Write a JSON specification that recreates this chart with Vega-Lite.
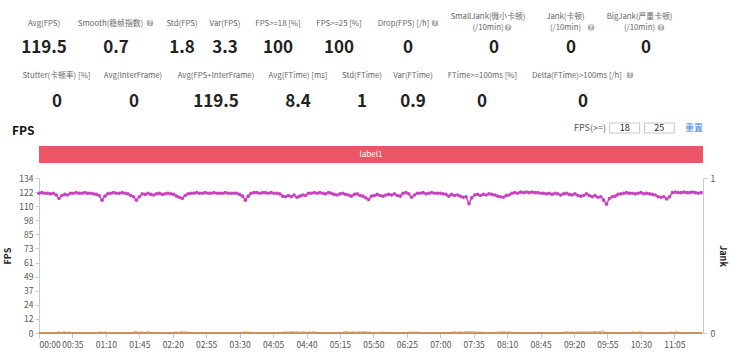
{
  "$schema": "https://vega.github.io/schema/vega-lite/v6.json",
  "width": 664,
  "height": 155,
  "autosize": {"type": "none"},
  "padding": {"left": 39, "top": 178, "right": 27, "bottom": 19},
  "config": {
    "view": {"stroke": null},
    "font": "Noto Sans CJK SC",
    "text": {"font": "Noto Sans CJK SC"},
    "axis": {"labelFont": "Noto Sans CJK SC", "titleFont": "Noto Sans CJK SC", "labelOverlap": false},
    "axisX": {"labelOverlap": false},
    "axisY": {"labelOverlap": false}
  },
  "datasets": {
    "fps": [
      {"t":0,"f":121},{"t":3,"f":121.5},{"t":6,"f":121},{"t":9,"f":121},{"t":12,"f":120.5},{"t":15,"f":121},{"t":18,"f":119.5},{"t":21,"f":116.5},{"t":24,"f":119},{"t":27,"f":120},
      {"t":30,"f":119.5},{"t":33,"f":121},{"t":36,"f":121},{"t":39,"f":121.5},{"t":42,"f":121},{"t":45,"f":121},{"t":48,"f":121.5},{"t":51,"f":121},{"t":54,"f":121},{"t":57,"f":120.5},
      {"t":60,"f":120},{"t":63,"f":119},{"t":66,"f":115},{"t":69,"f":118.5},{"t":72,"f":120.5},{"t":75,"f":121},{"t":78,"f":121.5},{"t":81,"f":121},{"t":84,"f":121},{"t":87,"f":121.5},
      {"t":90,"f":121},{"t":93,"f":120.5},{"t":96,"f":119},{"t":99,"f":118},{"t":102,"f":115},{"t":105,"f":118},{"t":108,"f":120.5},{"t":111,"f":120},{"t":114,"f":121},{"t":117,"f":120},
      {"t":120,"f":119.5},{"t":123,"f":120.5},{"t":126,"f":121},{"t":129,"f":120},{"t":132,"f":120.5},{"t":135,"f":121},{"t":138,"f":120.5},{"t":141,"f":120},{"t":144,"f":118.5},{"t":147,"f":117.5},
      {"t":150,"f":116.5},{"t":153,"f":119},{"t":156,"f":120.5},{"t":159,"f":121},{"t":162,"f":121},{"t":165,"f":121.5},{"t":168,"f":121},{"t":171,"f":121},{"t":174,"f":121.5},{"t":177,"f":121},
      {"t":180,"f":121},{"t":183,"f":121.5},{"t":186,"f":121},{"t":189,"f":121},{"t":192,"f":121},{"t":195,"f":121.5},{"t":198,"f":121},{"t":201,"f":121},{"t":204,"f":121},{"t":207,"f":121},
      {"t":210,"f":120},{"t":213,"f":118.5},{"t":216,"f":115},{"t":219,"f":118.5},{"t":222,"f":121},{"t":225,"f":121.5},{"t":228,"f":121.5},{"t":231,"f":121},{"t":234,"f":121.5},{"t":237,"f":121.5},
      {"t":240,"f":121},{"t":243,"f":121.5},{"t":246,"f":121},{"t":249,"f":121},{"t":252,"f":120.5},{"t":255,"f":118.5},{"t":258,"f":118},{"t":261,"f":119},{"t":264,"f":118},{"t":267,"f":119.5},
      {"t":270,"f":117.5},{"t":273,"f":118.5},{"t":276,"f":119.5},{"t":279,"f":119},{"t":282,"f":121},{"t":285,"f":121},{"t":288,"f":121.5},{"t":291,"f":121},{"t":294,"f":121.5},{"t":297,"f":121},
      {"t":300,"f":120.5},{"t":303,"f":121.5},{"t":306,"f":121},{"t":309,"f":120},{"t":312,"f":119.5},{"t":315,"f":120.5},{"t":318,"f":121},{"t":321,"f":120},{"t":324,"f":119.5},{"t":327,"f":118.5},
      {"t":330,"f":120},{"t":333,"f":120.5},{"t":336,"f":119},{"t":339,"f":118.5},{"t":342,"f":117},{"t":345,"f":115.5},{"t":348,"f":118.5},{"t":351,"f":119},{"t":354,"f":120},{"t":357,"f":119},
      {"t":360,"f":118.5},{"t":363,"f":119.5},{"t":366,"f":120},{"t":369,"f":119.5},{"t":372,"f":120.5},{"t":375,"f":119},{"t":378,"f":118.5},{"t":381,"f":121},{"t":384,"f":121.5},{"t":387,"f":120.5},
      {"t":390,"f":117.5},{"t":393,"f":119.5},{"t":396,"f":121},{"t":399,"f":121},{"t":402,"f":121.5},{"t":405,"f":120.5},{"t":408,"f":121},{"t":411,"f":121.5},{"t":414,"f":121},{"t":417,"f":121},
      {"t":420,"f":121},{"t":423,"f":120.5},{"t":426,"f":120},{"t":429,"f":118.5},{"t":432,"f":120},{"t":435,"f":119},{"t":438,"f":119.5},{"t":441,"f":118.5},{"t":444,"f":117.5},{"t":447,"f":118},
      {"t":450,"f":112},{"t":453,"f":117},{"t":456,"f":119.5},{"t":459,"f":120},{"t":462,"f":119},{"t":465,"f":120},{"t":468,"f":119.5},{"t":471,"f":120.5},{"t":474,"f":120},{"t":477,"f":119.5},
      {"t":480,"f":118.5},{"t":483,"f":118},{"t":486,"f":117.5},{"t":489,"f":119},{"t":492,"f":119.5},{"t":495,"f":121},{"t":498,"f":121.5},{"t":501,"f":121},{"t":504,"f":122},{"t":507,"f":121.5},
      {"t":510,"f":122},{"t":513,"f":121.5},{"t":516,"f":122},{"t":519,"f":121.5},{"t":522,"f":121.5},{"t":525,"f":121},{"t":528,"f":121},{"t":531,"f":120.5},{"t":534,"f":121},{"t":537,"f":120},
      {"t":540,"f":121},{"t":543,"f":120.5},{"t":546,"f":119.5},{"t":549,"f":120.5},{"t":552,"f":121},{"t":555,"f":120},{"t":558,"f":119.5},{"t":561,"f":120.5},{"t":564,"f":119},{"t":567,"f":118.5},
      {"t":570,"f":119},{"t":573,"f":120.5},{"t":576,"f":119},{"t":579,"f":118},{"t":582,"f":119},{"t":585,"f":117.5},{"t":588,"f":118},{"t":591,"f":115},{"t":594,"f":111.5},{"t":597,"f":116.5},
      {"t":600,"f":118},{"t":603,"f":118.5},{"t":606,"f":120},{"t":609,"f":120.5},{"t":612,"f":121},{"t":615,"f":121.5},{"t":618,"f":121},{"t":621,"f":121},{"t":624,"f":120.5},{"t":627,"f":121},
      {"t":630,"f":121.5},{"t":633,"f":120.5},{"t":636,"f":121},{"t":639,"f":120.5},{"t":642,"f":120},{"t":645,"f":119.5},{"t":648,"f":118},{"t":651,"f":117.5},{"t":654,"f":118},{"t":657,"f":116},
      {"t":660,"f":118},{"t":663,"f":121.5},{"t":666,"f":122},{"t":669,"f":121.5},{"t":672,"f":121.5},{"t":675,"f":122},{"t":678,"f":121.5},{"t":681,"f":121.5},{"t":684,"f":122},{"t":687,"f":121.5},
      {"t":690,"f":121},{"t":693,"f":121.5}
    ],
    "green": [
      {"t":0,"v":0},{"t":18,"v":0},{"t":20,"v":1},{"t":23,"v":0.4},{"t":26,"v":1.3},{"t":29,"v":0.6},{"t":32,"v":1},{"t":34,"v":0},
      {"t":62,"v":0},{"t":64,"v":1.2},{"t":67,"v":0.5},{"t":70,"v":1},{"t":72,"v":0},
      {"t":96,"v":0},{"t":99,"v":0.8},{"t":102,"v":1.4},{"t":105,"v":0.5},{"t":108,"v":1.1},{"t":111,"v":0.4},{"t":114,"v":1.2},{"t":117,"v":0.6},{"t":120,"v":0},
      {"t":140,"v":0},{"t":143,"v":1},{"t":146,"v":0.5},{"t":149,"v":1.3},{"t":152,"v":0.7},{"t":155,"v":1.1},{"t":158,"v":0.4},{"t":160,"v":0},
      {"t":213,"v":0},{"t":215,"v":1.2},{"t":218,"v":0.6},{"t":221,"v":1},{"t":223,"v":0},
      {"t":252,"v":0},{"t":255,"v":0.7},{"t":258,"v":1.2},{"t":261,"v":0.5},{"t":264,"v":1.4},{"t":267,"v":0.8},{"t":270,"v":1.1},{"t":273,"v":0.4},{"t":276,"v":1.3},{"t":279,"v":0.7},{"t":282,"v":1},{"t":285,"v":0.5},{"t":288,"v":1.2},{"t":292,"v":0},
      {"t":316,"v":0},{"t":319,"v":0.9},{"t":322,"v":1.3},{"t":325,"v":0.6},{"t":328,"v":1.1},{"t":331,"v":0.5},{"t":334,"v":1.2},{"t":337,"v":0.8},{"t":340,"v":1.4},{"t":343,"v":0.6},{"t":346,"v":1},{"t":350,"v":0},
      {"t":355,"v":0},{"t":358,"v":1},{"t":361,"v":0.6},{"t":365,"v":0},
      {"t":385,"v":0},{"t":388,"v":1.1},{"t":391,"v":0.5},{"t":394,"v":1.2},{"t":397,"v":0.7},{"t":400,"v":0},
      {"t":429,"v":0},{"t":432,"v":0.8},{"t":435,"v":1.3},{"t":438,"v":0.6},{"t":441,"v":1.1},{"t":444,"v":0.5},{"t":447,"v":1.4},{"t":450,"v":1.6},{"t":453,"v":0.9},{"t":456,"v":1.2},{"t":459,"v":0.6},{"t":462,"v":1},{"t":465,"v":0.5},{"t":468,"v":0},
      {"t":477,"v":0},{"t":480,"v":1},{"t":483,"v":0.6},{"t":486,"v":1.3},{"t":489,"v":0.7},{"t":492,"v":1.1},{"t":497,"v":0},
      {"t":546,"v":0},{"t":549,"v":0.7},{"t":552,"v":1.2},{"t":555,"v":0.6},{"t":558,"v":1.1},{"t":561,"v":0.5},{"t":564,"v":1.3},{"t":567,"v":0.8},{"t":570,"v":1},{"t":573,"v":0.6},{"t":576,"v":1.2},{"t":579,"v":0.7},{"t":582,"v":1.4},{"t":585,"v":0.9},{"t":588,"v":1.5},{"t":591,"v":1.8},{"t":594,"v":0},
      {"t":619,"v":0},{"t":622,"v":1},{"t":625,"v":0.5},{"t":628,"v":1.2},{"t":631,"v":0.6},{"t":634,"v":0},
      {"t":658,"v":0},{"t":661,"v":1.1},{"t":664,"v":0.6},{"t":667,"v":1.2},{"t":670,"v":0.5},{"t":672,"v":0},{"t":694,"v":0}
    ],
    "jank": [
      {"t":0,"j":0},{"t":35,"j":0},{"t":70,"j":0},{"t":105,"j":0},{"t":140,"j":0},{"t":175,"j":0},{"t":210,"j":0},{"t":245,"j":0},{"t":280,"j":0},{"t":315,"j":0},{"t":350,"j":0},
      {"t":385,"j":0},{"t":420,"j":0},{"t":455,"j":0},{"t":490,"j":0},{"t":525,"j":0},{"t":560,"j":0},{"t":595,"j":0},{"t":630,"j":0},{"t":665,"j":0},{"t":694,"j":0}
    ],
    "labels": [{"start": 0, "end": 695, "label": "label1"}],
    "stats": [
      {"c":0,"r":0,"label":"Avg(FPS)","value":"119.5","help":0},
      {"c":1,"r":0,"label":"Smooth(稳帧指数)","value":"0.7","help":1},
      {"c":2,"r":0,"label":"Std(FPS)","value":"1.8","help":0},
      {"c":3,"r":0,"label":"Var(FPS)","value":"3.3","help":0},
      {"c":4,"r":0,"label":"FPS>=18 [%]","value":"100","help":0},
      {"c":5,"r":0,"label":"FPS>=25 [%]","value":"100","help":0},
      {"c":6,"r":0,"label":"Drop(FPS) [/h]","value":"0","help":1},
      {"c":7,"r":0,"label":["SmallJank(微小卡顿)","(/10min)"],"value":"0","help":1},
      {"c":8,"r":0,"label":["Jank(卡顿)","(/10min)"],"value":"0","help":1},
      {"c":9,"r":0,"label":["BigJank(严重卡顿)","(/10min)"],"value":"0","help":1},
      {"c":10,"r":1,"label":"Stutter(卡顿率) [%]","value":"0","help":0},
      {"c":11,"r":1,"label":"Avg(InterFrame)","value":"0","help":0},
      {"c":12,"r":1,"label":"Avg(FPS+InterFrame)","value":"119.5","help":0},
      {"c":13,"r":1,"label":"Avg(FTime) [ms]","value":"8.4","help":0},
      {"c":14,"r":1,"label":"Std(FTime)","value":"1","help":0},
      {"c":15,"r":1,"label":"Var(FTime)","value":"0.9","help":0},
      {"c":16,"r":1,"label":"FTime>=100ms [%]","value":"0","help":0},
      {"c":17,"r":1,"label":"Delta(FTime)>100ms [/h]","value":"0","help":1}
    ],
    "controls": [{"item": "FPS(>=)"}, {"item": "18"}, {"item": "25"}, {"item": "重置"}]
  },
  "layer": [
    {
      "layer": [
        {
          "data": {"name": "green"},
          "mark": {"type": "line", "color": "#91cc75", "strokeWidth": 1, "opacity": 0.9},
          "encoding": {
            "x": {"field": "t", "type": "quantitative", "scale": {"domain": [0, 695], "nice": false, "zero": false},
              "axis": {"values": [0,35,70,105,140,175,210,245,280,315,350,385,420,455,490,525,560,595,630,665],
                "labelExpr": "utcFormat(datum.value*1000, '%M:%S')", "title": null, "grid": false,
                "domainColor": "#c6cad4", "tickColor": "#c6cad4", "tickSize": 5, "labelColor": "#555",
                "labelFontSize": 8.5, "labelFlush": true, "labelPadding": 2, "labelOverlap": false}},
            "y": {"field": "v", "type": "quantitative", "scale": {"domain": [0, 134.2], "nice": false},
              "axis": {"values": [0,12.2,24.4,36.6,48.8,61,73.2,85.4,97.6,109.8,122,134.2], "format": ".0f",
                "title": "FPS", "grid": false, "domainColor": "#c6cad4", "tickColor": "#c6cad4", "tickSize": 4,
                "labelColor": "#555", "labelFontSize": 8.5, "titleFontSize": 9, "titleFontWeight": "bold",
                "titleColor": "#222", "titlePadding": 6, "labelOverlap": false, "labelPadding": 2}}
          }
        },
        {
          "data": {"name": "fps"},
          "mark": {"type": "line", "color": "#c940c0", "strokeWidth": 1.4, "point": {"filled": true, "size": 13, "color": "#c940c0"}},
          "encoding": {
            "x": {"field": "t", "type": "quantitative",
              "axis": {"values": [0,35,70,105,140,175,210,245,280,315,350,385,420,455,490,525,560,595,630,665],
                "labelExpr": "utcFormat(datum.value*1000, '%M:%S')", "title": null, "grid": false,
                "domainColor": "#c6cad4", "tickColor": "#c6cad4", "tickSize": 5, "labelColor": "#555",
                "labelFontSize": 8.5, "labelFlush": true, "labelPadding": 2, "labelOverlap": false}},
            "y": {"field": "f", "type": "quantitative",
              "axis": {"values": [0,12.2,24.4,36.6,48.8,61,73.2,85.4,97.6,109.8,122,134.2], "format": ".0f",
                "title": "FPS", "grid": false, "domainColor": "#c6cad4", "tickColor": "#c6cad4", "tickSize": 4,
                "labelColor": "#555", "labelFontSize": 8.5, "titleFontSize": 9, "titleFontWeight": "bold",
                "titleColor": "#222", "titlePadding": 6, "labelOverlap": false, "labelPadding": 2}}
          }
        }
      ]
    },
    {
      "data": {"name": "jank"},
      "mark": {"type": "line", "color": "#d0793b", "strokeWidth": 1.6},
      "encoding": {
        "x": {"field": "t", "type": "quantitative", "scale": {"domain": [0, 695], "nice": false, "zero": false}, "axis": null},
        "y": {"field": "j", "type": "quantitative", "scale": {"domain": [0, 1], "nice": false},
          "axis": {"orient": "right", "values": [0, 1], "format": "d", "title": "Jank", "grid": false, "domainColor": "#c6cad4",
            "tickColor": "#c6cad4", "tickSize": 4, "labelColor": "#555", "labelFontSize": 8.5, "titleFontSize": 9,
            "titleFontWeight": "bold", "titleColor": "#222", "titlePadding": 3, "labelPadding": 3, "labelOverlap": false}}
      }
    },
    {
      "data": {"name": "labels"},
      "mark": {"type": "rect", "color": "#ec5565"},
      "encoding": {
        "x": {"field": "start", "type": "quantitative", "scale": {"domain": [0, 695], "nice": false, "zero": false}, "axis": null},
        "x2": {"field": "end"},
        "y": {"field": "label", "type": "nominal", "scale": {"type": "band", "range": [-32, -15], "paddingInner": 0, "paddingOuter": 0}, "axis": null}
      }
    },
    {
      "data": {"name": "labels"},
      "transform": [{"calculate": "(datum.start + datum.end) / 2", "as": "mid"}],
      "mark": {"type": "text", "color": "white", "fontSize": 8, "baseline": "middle", "align": "center"},
      "encoding": {
        "x": {"field": "mid", "type": "quantitative", "scale": {"domain": [0, 695], "nice": false, "zero": false}, "axis": null},
        "y": {"field": "label", "type": "nominal", "scale": {"type": "band", "range": [-32, -15], "paddingInner": 0, "paddingOuter": 0}, "axis": null},
        "text": {"field": "label"}
      }
    },
    {
      "data": {"name": "stats"},
      "transform": [{"filter": "!isArray(datum.label)"}],
      "mark": {"type": "text", "color": "#666", "fontSize": 7.8, "baseline": "bottom", "align": "center"},
      "encoding": {
        "x": {"field": "c", "type": "quantitative", "axis": null,
          "scale": {"domain": [0,1,2,3,4,5,6,7,8,9,10,11,12,13,14,15,16,17], "range": [5,71.5,143,186,239,300,364.5,449,526.5,600.5,17.5,94,177,259,323,374,443.5,538], "nice": false, "zero": false}},
        "y": {"field": "r", "type": "quantitative", "axis": null, "scale": {"domain": [0, 1], "range": [-150, -98], "nice": false, "zero": false}},
        "text": {"field": "label"}
      }
    },
    {
      "data": {"name": "stats"},
      "transform": [{"filter": "isArray(datum.label)"}],
      "mark": {"type": "text", "color": "#666", "fontSize": 7.8, "baseline": "bottom", "align": "center", "lineHeight": 11.5},
      "encoding": {
        "x": {"field": "c", "type": "quantitative", "axis": null,
          "scale": {"domain": [7,8,9], "range": [449,526.5,600.5], "nice": false, "zero": false}},
        "y": {"field": "r", "type": "quantitative", "axis": null, "scale": {"domain": [0, 1], "range": [-157.5, -105.5], "nice": false, "zero": false}},
        "text": {"field": "label"}
      }
    },
    {
      "data": {"name": "stats"},
      "mark": {"type": "text", "color": "#222", "fontSize": 17, "fontWeight": "bold", "baseline": "middle", "align": "center"},
      "encoding": {
        "x": {"field": "c", "type": "quantitative", "axis": null,
          "scale": {"domain": [0,1,2,3,4,5,6,7,8,9,10,11,12,13,14,15,16,17], "range": [5,77,143,186,239,300,369,455,532,607,18,95,177,259,323,374,443,544], "nice": false, "zero": false}},
        "y": {"field": "r", "type": "quantitative", "axis": null, "scale": {"domain": [0, 1], "range": [-130, -76], "nice": false, "zero": false}},
        "text": {"field": "value", "type": "nominal"}
      }
    },
    {
      "data": {"name": "stats"},
      "transform": [{"filter": "datum.help == 1"}],
      "mark": {"type": "point", "shape": "circle", "filled": true, "color": "#a9adb5", "size": 42, "opacity": 1},
      "encoding": {
        "x": {"field": "c", "type": "quantitative", "axis": null,
          "scale": {"domain": [1,6,7,8,9,17], "range": [111,396,469,552,622,591], "nice": false, "zero": false}},
        "y": {"field": "c", "type": "quantitative", "axis": null,
          "scale": {"domain": [1,6,7,8,9,17], "range": [-155,-155,-150.5,-150.5,-150.5,-103], "nice": false, "zero": false}}
      }
    },
    {
      "data": {"name": "stats"},
      "transform": [{"filter": "datum.help == 1"}],
      "mark": {"type": "text", "text": "?", "color": "white", "fontSize": 6.5, "fontWeight": "bold", "baseline": "middle", "align": "center"},
      "encoding": {
        "x": {"field": "c", "type": "quantitative", "axis": null,
          "scale": {"domain": [1,6,7,8,9,17], "range": [111,396,469,552,622,591], "nice": false, "zero": false}},
        "y": {"field": "c", "type": "quantitative", "axis": null,
          "scale": {"domain": [1,6,7,8,9,17], "range": [-155,-155,-150.5,-150.5,-150.5,-103], "nice": false, "zero": false}}
      }
    },
    {
      "data": {"values": [{"name": "FPS"}]},
      "mark": {"type": "text", "color": "#111", "fontSize": 12, "fontWeight": "bold", "baseline": "middle", "align": "left"},
      "encoding": {
        "x": {"datum": 0, "type": "quantitative", "axis": null, "scale": {"domain": [0, 1], "range": [-27, 0], "nice": false, "zero": false}},
        "y": {"datum": 0, "type": "quantitative", "axis": null, "scale": {"domain": [0, 1], "range": [-47, 0], "nice": false, "zero": false}},
        "text": {"field": "name"}
      }
    },
    {
      "data": {"name": "controls"},
      "transform": [{"filter": "datum.item == '18' || datum.item == '25'"}],
      "mark": {"type": "point", "shape": "M-1.5,-0.5H1.5V0.5H-1.5Z", "size": 400, "filled": true, "fill": "white", "stroke": "#c4c7ce", "strokeWidth": 1, "opacity": 1},
      "encoding": {
        "x": {"field": "item", "type": "nominal", "axis": null, "scale": {"type": "point", "domain": ["FPS(>=)", "18", "25", "重置"], "range": [551, 655], "padding": 0}},
        "y": {"datum": 0, "type": "quantitative", "axis": null, "scale": {"domain": [0, 1], "range": [-50, 0], "nice": false, "zero": false}}
      }
    },
    {
      "data": {"name": "controls"},
      "mark": {"type": "text", "fontSize": 9, "baseline": "middle", "align": "center"},
      "encoding": {
        "x": {"field": "item", "type": "nominal", "axis": null, "scale": {"type": "point", "domain": ["FPS(>=)", "18", "25", "重置"], "range": [551, 655], "padding": 0}},
        "y": {"datum": 0, "type": "quantitative", "axis": null, "scale": {"domain": [0, 1], "range": [-50, 0], "nice": false, "zero": false}},
        "text": {"field": "item"},
        "color": {"condition": [{"test": "datum.item == '重置'", "value": "#3d7cf5"}, {"test": "datum.item == 'FPS(>=)'", "value": "#555"}], "value": "#222"}
      }
    }
  ],
  "resolve": {"scale": {"x": "independent", "y": "independent"}}
}
